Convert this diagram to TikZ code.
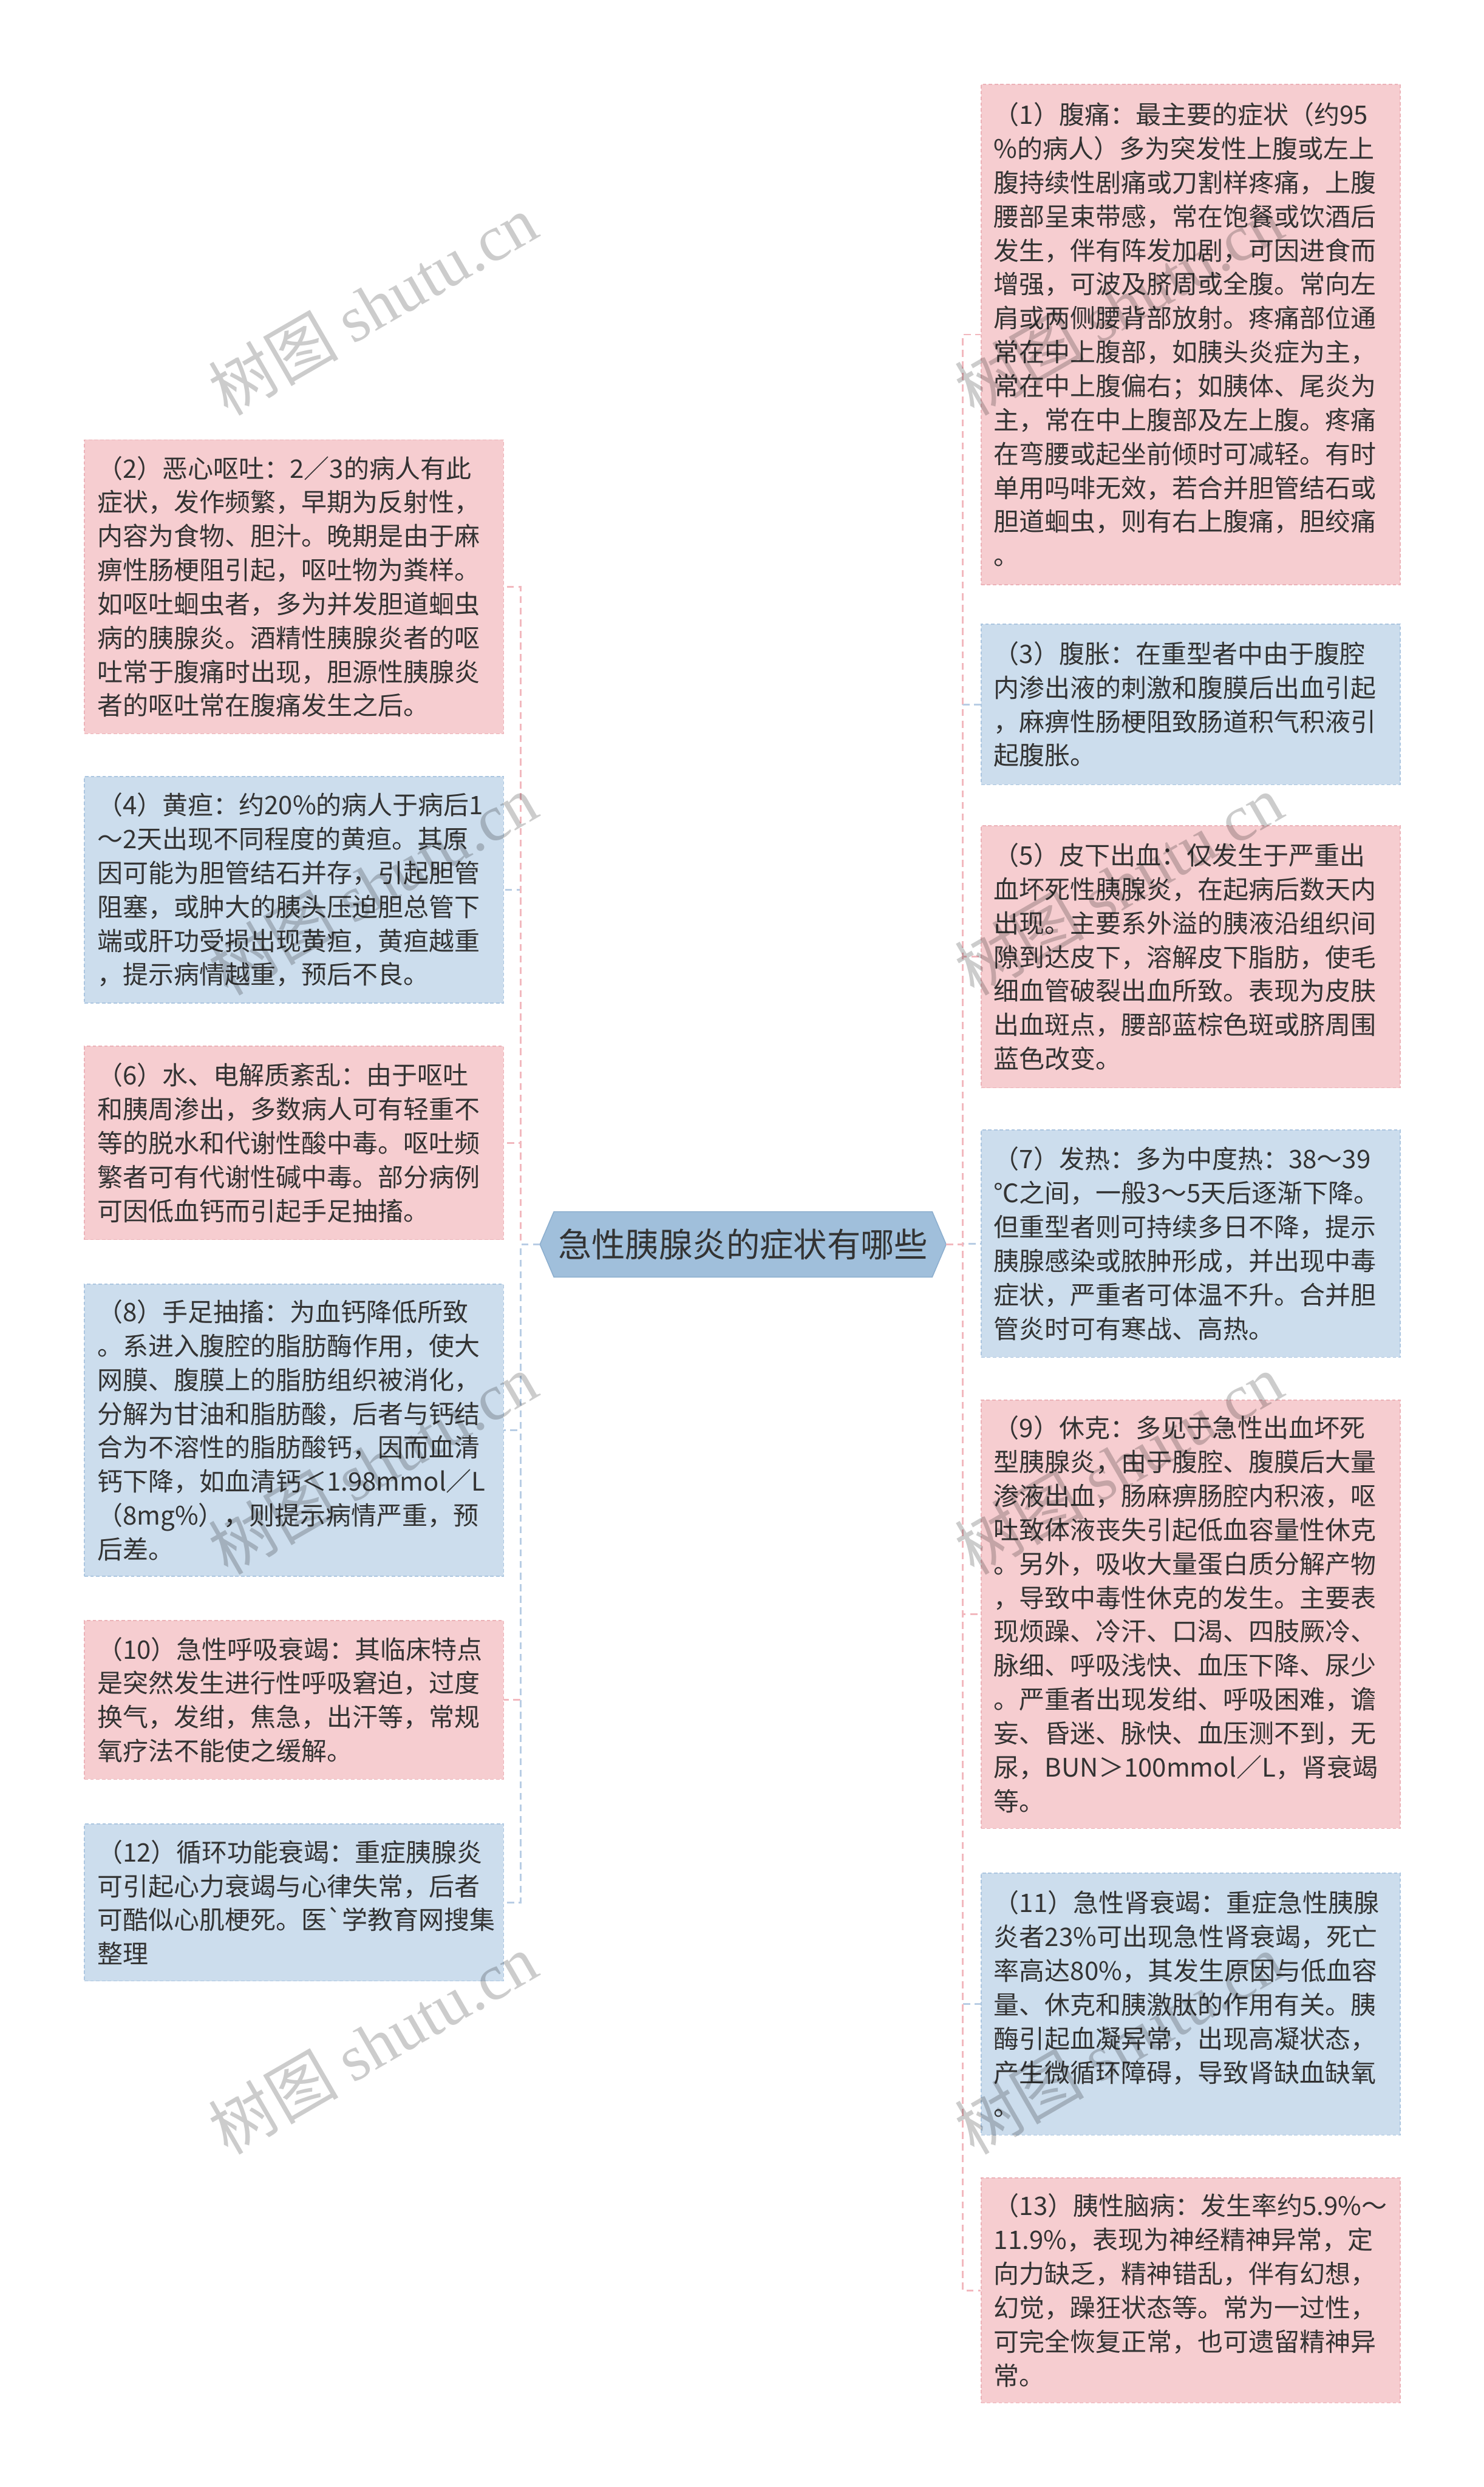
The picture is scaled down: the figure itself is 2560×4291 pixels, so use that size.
\documentclass[tikz,border=0pt]{standalone}
\usepackage{fontspec}
\setmainfont{Noto Sans CJK SC}
\newfontfamily\cjk{Noto Sans CJK SC}
\newfontfamily\wmser{Liberation Serif}
\usetikzlibrary{calc,backgrounds}
\definecolor{pinkF}{RGB}{246,205,208}
\definecolor{pinkD}{RGB}{236,178,184}
\definecolor{blueF}{RGB}{204,221,237}
\definecolor{blueD}{RGB}{172,198,224}
\definecolor{rootF}{RGB}{160,191,219}
\definecolor{rootD}{RGB}{140,174,206}
\definecolor{pinkL}{RGB}{242,184,190}
\definecolor{blueL}{RGB}{184,205,228}
\definecolor{txt}{RGB}{51,51,51}
\newcommand{\boxfont}{\cjk\fontsize{22pt}{29.25pt}\selectfont}
\newcommand{\rootfont}{\cjk\fontsize{29pt}{34pt}\selectfont}
\newcommand{\wmfont}{\fontsize{56pt}{60pt}\selectfont}
\tikzset{
  card/.style={draw, dash pattern=on 3pt off 2pt, line width=0.8pt, anchor=north west,
    text width=339.5pt, minimum width=361.5pt, inner xsep=11pt, inner ysep=0pt,
    align=left, font=\boxfont, text=txt},
  pinkcard/.style={card, fill=pinkF, draw=pinkD},
  bluecard/.style={card, fill=blueF, draw=blueD},
  rootbox/.style={minimum width=326pt, minimum height=56pt, inner sep=0pt, font=\rootfont, text=txt},
  link/.style={line width=1.5pt, dash pattern=on 6pt off 4pt},
  pinklink/.style={link, draw=pinkL},
  bluelink/.style={link, draw=blueL},
  wm/.style={rotate=30, text=black, text opacity=0.2, inner sep=0pt}
}
\begin{document}
\begin{tikzpicture}[x=0.5pt, y=-0.5pt]
\useasboundingbox (0,0) rectangle (2560,4291);

% root
\node[rootbox] (root) at (1282,2147) {急性胰腺炎的症状有哪些};
\begin{scope}[on background layer]
\fill[white] (0,0) rectangle (2560,4291);
\path[fill=rootF, draw=rootD, line width=0.8pt] (root.north west) -- (root.north east) -- ($(root.east)+(24,0)$) -- (root.south east) -- (root.south west) -- ($(root.west)+(-24,0)$) -- cycle;
\end{scope}
\coordinate (rootL) at ($(root.west)+(-24,0)$);
\coordinate (rootR) at ($(root.east)+(24,0)$);
\coordinate (LS) at (898,2147);
\coordinate (RS) at (1661,2147);

% right column
\node[pinkcard, minimum height=431.5pt] (c1) at (1692,145) {（1）腹痛：最主要的症状（约95\\%
\%的病人）多为突发性上腹或左上\\%
腹持续性剧痛或刀割样疼痛，上腹\\%
腰部呈束带感，常在饱餐或饮酒后\\%
发生，伴有阵发加剧，可因进食而\\%
增强，可波及脐周或全腹。常向左\\%
肩或两侧腰背部放射。疼痛部位通\\%
常在中上腹部，如胰头炎症为主，\\%
常在中上腹偏右；如胰体、尾炎为\\%
主，常在中上腹部及左上腹。疼痛\\%
在弯腰或起坐前倾时可减轻。有时\\%
单用吗啡无效，若合并胆管结石或\\%
胆道蛔虫，则有右上腹痛，胆绞痛\\%
。};
\node[bluecard, minimum height=138.5pt] (c3) at (1692,1076) {（3）腹胀：在重型者中由于腹腔\\%
内渗出液的刺激和腹膜后出血引起\\%
，麻痹性肠梗阻致肠道积气积液引\\%
起腹胀。};
\node[pinkcard, minimum height=226pt] (c5) at (1692,1424) {（5）皮下出血：仅发生于严重出\\%
血坏死性胰腺炎，在起病后数天内\\%
出现。主要系外溢的胰液沿组织间\\%
隙到达皮下，溶解皮下脂肪，使毛\\%
细血管破裂出血所致。表现为皮肤\\%
出血斑点，腰部蓝棕色斑或脐周围\\%
蓝色改变。};
\node[bluecard, minimum height=196pt] (c7) at (1692,1949) {（7）发热：多为中度热：38～39\\%
℃之间，一般3～5天后逐渐下降。\\%
但重型者则可持续多日不降，提示\\%
胰腺感染或脓肿形成，并出现中毒\\%
症状，严重者可体温不升。合并胆\\%
管炎时可有寒战、高热。};
\node[pinkcard, minimum height=369.5pt] (c9) at (1692,2415) {（9）休克：多见于急性出血坏死\\%
型胰腺炎，由于腹腔、腹膜后大量\\%
渗液出血，肠麻痹肠腔内积液，呕\\%
吐致体液丧失引起低血容量性休克\\%
。另外，吸收大量蛋白质分解产物\\%
，导致中毒性休克的发生。主要表\\%
现烦躁、冷汗、口渴、四肢厥冷、\\%
脉细、呼吸浅快、血压下降、尿少\\%
。严重者出现发绀、呼吸困难，谵\\%
妄、昏迷、脉快、血压测不到，无\\%
尿，BUN＞100mmol／L，肾衰竭\\%
等。};
\node[bluecard, minimum height=226pt] (c11) at (1692,3231) {（11）急性肾衰竭：重症急性胰腺\\%
炎者23\%可出现急性肾衰竭，死亡\\%
率高达80\%，其发生原因与低血容\\%
量、休克和胰激肽的作用有关。胰\\%
酶引起血凝异常，出现高凝状态，\\%
产生微循环障碍，导致肾缺血缺氧\\%
。};
\node[pinkcard, minimum height=194pt] (c13) at (1692,3757) {（13）胰性脑病：发生率约5.9\%～\\%
11.9\%，表现为神经精神异常，定\\%
向力缺乏，精神错乱，伴有幻想，\\%
幻觉，躁狂状态等。常为一过性，\\%
可完全恢复正常，也可遗留精神异\\%
常。};

% left column
\node[pinkcard, minimum height=253.5pt] (c2) at (145,758) {（2）恶心呕吐：2／3的病人有此\\%
症状，发作频繁，早期为反射性，\\%
内容为食物、胆汁。晚期是由于麻\\%
痹性肠梗阻引起，呕吐物为粪样。\\%
如呕吐蛔虫者，多为并发胆道蛔虫\\%
病的胰腺炎。酒精性胰腺炎者的呕\\%
吐常于腹痛时出现，胆源性胰腺炎\\%
者的呕吐常在腹痛发生之后。};
\node[bluecard, minimum height=195.5pt] (c4) at (145,1339) {（4）黄疸：约20\%的病人于病后1\\%
～2天出现不同程度的黄疸。其原\\%
因可能为胆管结石并存，引起胆管\\%
阻塞，或肿大的胰头压迫胆总管下\\%
端或肝功受损出现黄疸，黄疸越重\\%
，提示病情越重，预后不良。};
\node[pinkcard, minimum height=167pt] (c6) at (145,1804) {（6）水、电解质紊乱：由于呕吐\\%
和胰周渗出，多数病人可有轻重不\\%
等的脱水和代谢性酸中毒。呕吐频\\%
繁者可有代谢性碱中毒。部分病例\\%
可因低血钙而引起手足抽搐。};
\node[bluecard, minimum height=252pt] (c8) at (145,2215) {（8）手足抽搐：为血钙降低所致\\%
。系进入腹腔的脂肪酶作用，使大\\%
网膜、腹膜上的脂肪组织被消化，\\%
分解为甘油和脂肪酸，后者与钙结\\%
合为不溶性的脂肪酸钙，因而血清\\%
钙下降，如血清钙＜1.98mmol／L\\%
（8mg\%），则提示病情严重，预\\%
后差。};
\node[pinkcard, minimum height=137pt] (c10) at (145,2795) {（10）急性呼吸衰竭：其临床特点\\%
是突然发生进行性呼吸窘迫，过度\\%
换气，发绀，焦急，出汗等，常规\\%
氧疗法不能使之缓解。};
\node[bluecard, minimum height=135.5pt] (c12) at (145,3146) {（12）循环功能衰竭：重症胰腺炎\\%
可引起心力衰竭与心律失常，后者\\%
可酷似心肌梗死。医\symbol{96}学教育网搜集\\%
整理};

% connectors (nearest first, farthest on top)
\draw[pinklink] (rootL) -- (LS) |- (c6.east);
\draw[bluelink] (rootL) -- (LS) |- (c8.east);
\draw[bluelink] (rootL) -- (LS) |- (c4.east);
\draw[pinklink] (rootL) -- (LS) |- (c10.east);
\draw[pinklink] (rootL) -- (LS) |- (c2.east);
\draw[bluelink] (rootL) -- (LS) |- (c12.east);

\draw[bluelink] (rootR) -- (RS) |- (c7.west);
\draw[pinklink] (rootR) -- (RS) |- (c5.west);
\draw[pinklink] (rootR) -- (RS) |- (c9.west);
\draw[bluelink] (rootR) -- (RS) |- (c3.west);
\draw[bluelink] (rootR) -- (RS) |- (c11.west);
\draw[pinklink] (rootR) -- (RS) |- (c1.west);
\draw[pinklink] (rootR) -- (RS) |- (c13.west);

% watermarks
\foreach \i/\px/\py in {1/643/526, 2/643/1526, 3/643/2526, 4/643/3526, 5/1930/526, 6/1930/1526, 7/1930/2526, 8/1930/3526} {
  \node[wm, font=\wmfont] (wm\i) at (\px,\py) {树图 {\wmser shutu.cn}};
}
\end{tikzpicture}
\end{document}
